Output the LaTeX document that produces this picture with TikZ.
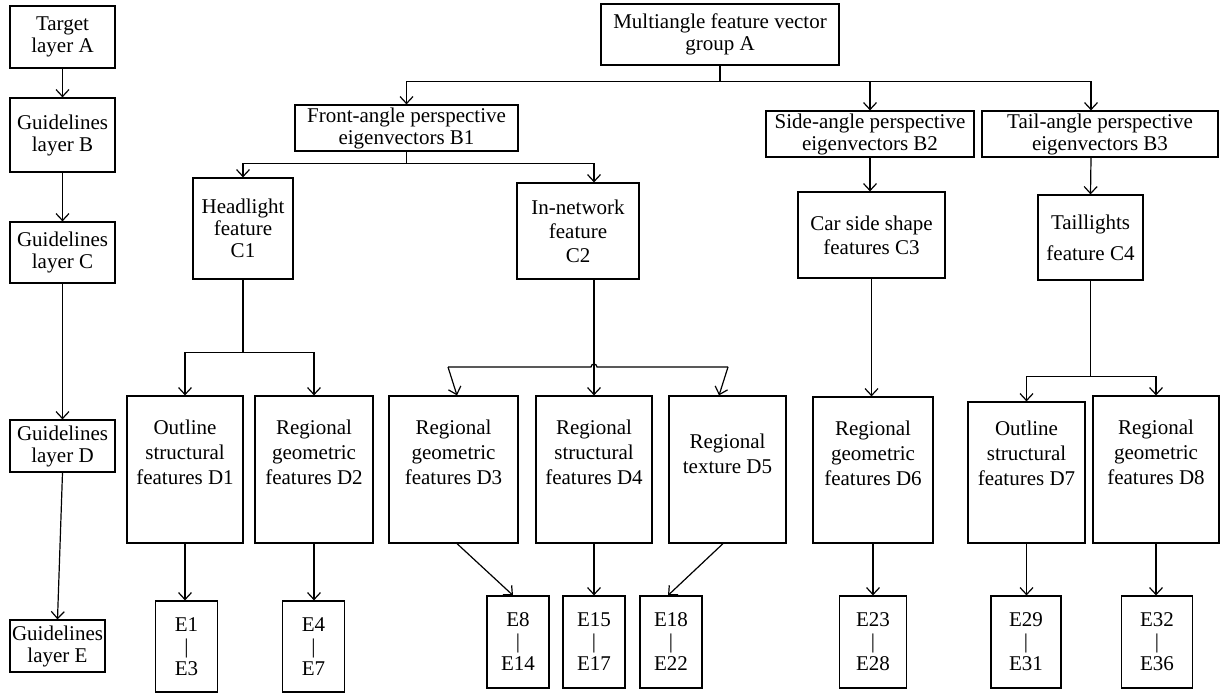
\documentclass[tikz,border=0pt]{standalone}
\usepackage{fontspec}
\setmainfont{Liberation Serif}
\usetikzlibrary{positioning,arrows.meta,calc}

\begin{document}
\begin{tikzpicture}[
  x=1pt, y=-1pt,
  box/.style={draw, line width=1.2pt, inner sep=0pt, align=center, font=\fontsize{21}{22}\selectfont},
  dbox/.style={box, minimum height=147, font=\fontsize{21}{25}\selectfont},
  ebox/.style={box, minimum width=62, minimum height=92},
  arrow/.style={-{Straight Barb[length=7pt,width=13pt,line width=1.2pt]}, line width=1.2pt},
  link/.style={line width=1.2pt}
]
\useasboundingbox (0,0) rectangle (1222,693);

% Layers on the left
\node[box, minimum width=105, minimum height=62] (tA) at (62.5,37) {Target\\layer A};
\node[box, minimum width=105, minimum height=74] (gB) at (62.5,135) {Guidelines\\layer B};
\node[box, minimum width=105, minimum height=61] (gC) at (62.5,252.5) {Guidelines\\layer C};
\node[box, minimum width=105, minimum height=52] (gD) at (62.5,446) {Guidelines\\layer D};
\node[box, minimum width=95, minimum height=52] (gE) at (57.5,646) {Guidelines\\layer E};

% Top group
\node[box, minimum width=238, minimum height=61] (mA) at (720,34.5) {Multiangle feature vector\\group A};

% Perspectives
\node[box, minimum width=223, minimum height=46] (B1) at (406.5,128) {Front-angle perspective\\eigenvectors B1};
\node[box, minimum width=208, minimum height=46] (B2) at (870,134) {Side-angle perspective\\eigenvectors B2};
\node[box, minimum width=236, minimum height=46] (B3) at (1100,134) {Tail-angle perspective\\eigenvectors B3};

% Features C
\node[box, minimum width=100, minimum height=101] (C1) at (243,228.5) {Headlight\\feature\\C1};
\node[box, minimum width=122, minimum height=96] (C2) at (578,231) {In-network\\[2pt]feature\\[2pt]C2};
\node[box, minimum width=147, minimum height=86] (C3) at (871.5,235) {Car side shape\\[2pt]features C3};
\node[box, minimum width=105, minimum height=85] (C4) at (1090.5,237.5) {Taillights\\[9pt]feature C4};

% Features D (text sits above the middle)
\node[dbox, minimum width=116] (D1) at (185,469.5) {Outline\\structural\\features D1\\[9pt]\mbox{}};
\node[dbox, minimum width=118] (D2) at (314,469.5) {Regional\\geometric\\features D2\\[9pt]\mbox{}};
\node[dbox, minimum width=129] (D3) at (453.5,469.5) {Regional\\geometric\\features D3\\[9pt]\mbox{}};
\node[dbox, minimum width=116] (D4) at (594,469.5) {Regional\\structural\\features D4\\[9pt]\mbox{}};
\node[dbox, minimum width=117] (D5) at (727.5,469.5) {Regional\\texture D5\\[7pt]\mbox{}};
\node[dbox, minimum width=120, minimum height=146] (D6) at (873,470) {Regional\\geometric\\features D6\\[9pt]\mbox{}};
\node[dbox, minimum width=117, minimum height=141] (D7) at (1026.5,472.5) {Outline\\structural\\features D7\\[14pt]\mbox{}};
\node[dbox, minimum width=126] (D8) at (1156,469.5) {Regional\\geometric\\features D8\\[9pt]\mbox{}};

% Indicators E
\node[ebox, minimum height=91] (E1) at (186.5,646.5) {E1\\|\\E3};
\node[ebox, minimum height=91] (E4) at (313.5,646.5) {E4\\|\\E7};
\node[ebox] (E8) at (518,642) {E8\\|\\E14};
\node[ebox] (E15) at (594,642) {E15\\|\\E17};
\node[ebox] (E18) at (671,642) {E18\\|\\E22};
\node[ebox, minimum width=67] (E23) at (873,642) {E23\\|\\E28};
\node[ebox, minimum width=70] (E29) at (1026,642) {E29\\|\\E31};
\node[ebox, minimum width=71] (E32) at (1157,642) {E32\\|\\E36};

% Left column
\draw[arrow] (tA) -- (gB);
\draw[arrow] (gB) -- (gC);
\draw[arrow] (gC) -- (gD);
\draw[arrow] (gD.south) -- (gE.north);

% A to B
\draw[link] (mA.south) -- ++(0,16) coordinate (hubA);
\draw[arrow] (hubA) -| (B1.north);
\draw[arrow] (hubA) -| (B2.north);
\draw[arrow] (hubA) -| ([xshift=-9pt]B3.north);

% B to C
\draw[link] (B1.south) -- ++(0,12) coordinate (hubB);
\draw[arrow] (hubB) -| (C1.north);
\draw[arrow] (hubB) -| ([xshift=16pt]C2.north);
\draw[arrow] (B2.south) -- (B2.south |- C3.north);
\draw[arrow] ([xshift=-9pt]B3.south) -- (C4.north);

% C to D
\draw[link] (C1.south) -- ++(0,73) coordinate (hubC);
\draw[arrow] (hubC) -| (D1.north);
\draw[arrow] (hubC) -| (D2.north);
\coordinate (jl) at (448,367);
\coordinate (jx) at (594,367);
\coordinate (jr) at (728,367);
\draw[link] (jl) -- ([xshift=-3pt]jx) arc[start angle=180, end angle=0, radius=3pt] -- (jr);
\draw[arrow] (jl) -- ([xshift=3.5pt]D3.north);
\draw[arrow] ([xshift=16pt]C2.south) -- (D4.north);
\draw[arrow] (jr) -- ([xshift=-8.5pt]D5.north);
\draw[arrow] (C3.south) -- (C3.south |- D6.north);
\draw[link] (C4.south) -- ++(0,96) coordinate (hubD);
\draw[arrow] (hubD) -| (D7.north);
\draw[arrow] (hubD) -| (D8.north);

% D to E
\draw[arrow] (D1.south) -- (D1.south |- E1.north);
\draw[arrow] (D2.south) -- (D2.south |- E4.north);
\draw[arrow] ([xshift=3.5pt]D3.south) -- ([xshift=-5pt]E8.north);
\draw[arrow] (D4.south) -- (E15.north);
\draw[arrow] ([xshift=-4.5pt]D5.south) -- ([xshift=-3pt]E18.north);
\draw[arrow] (D6.south) -- (E23.north);
\draw[arrow] (D7.south) -- (D7.south |- E29.north);
\draw[arrow] (D8.south) -- (D8.south |- E32.north);

\end{tikzpicture}
\end{document}
